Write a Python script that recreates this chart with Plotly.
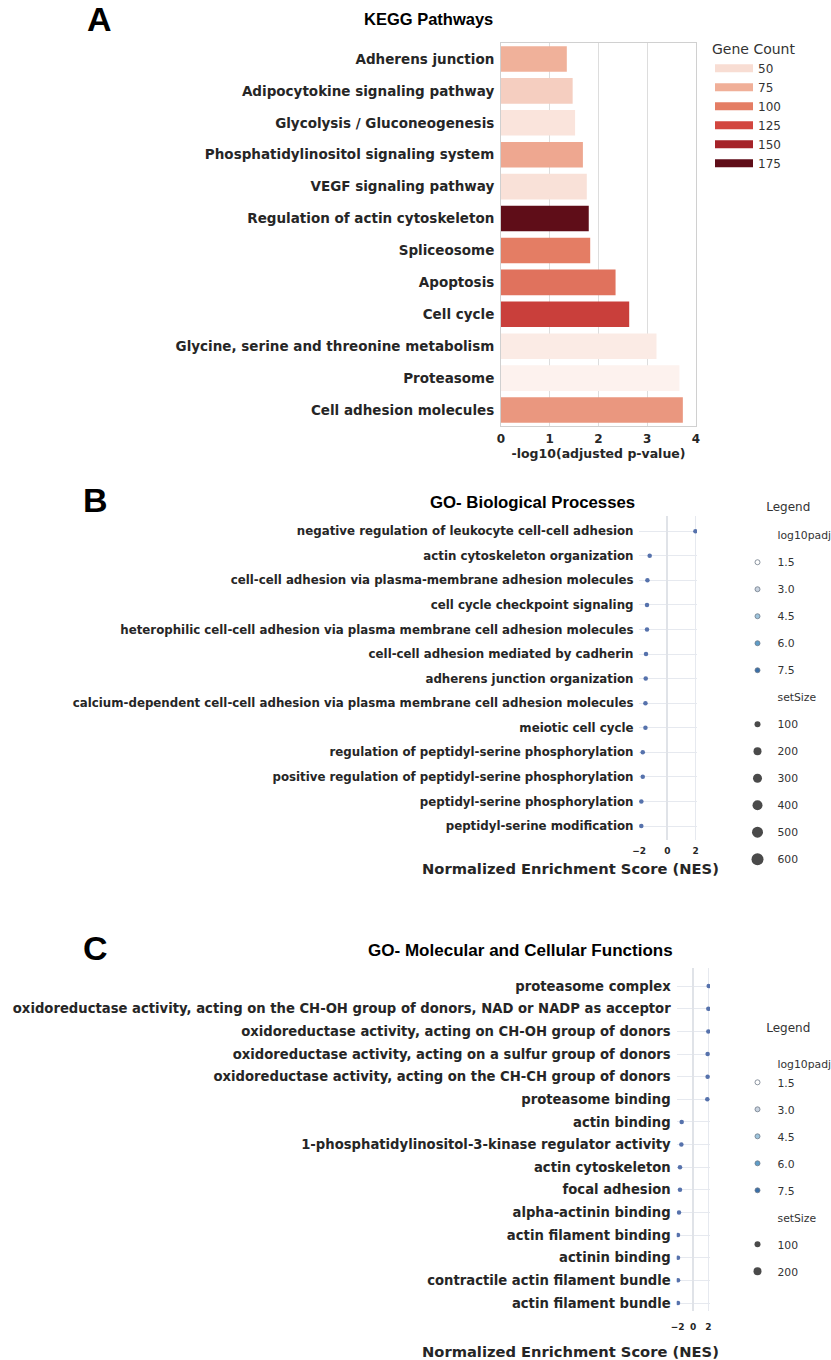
import plotly.graph_objects as go
from plotly.colors import hex_to_rgb, sample_colorscale

W, H = 831, 1360

# ---------------- data ----------------
kegg_terms = [
    "Adherens junction",
    "Adipocytokine signaling pathway",
    "Glycolysis / Gluconeogenesis",
    "Phosphatidylinositol signaling system",
    "VEGF signaling pathway",
    "Regulation of actin cytoskeleton",
    "Spliceosome",
    "Apoptosis",
    "Cell cycle",
    "Glycine, serine and threonine metabolism",
    "Proteasome",
    "Cell adhesion molecules",
]
kegg_neglog10_padj = [1.35, 1.47, 1.52, 1.68, 1.76, 1.80, 1.83, 2.35, 2.63, 3.19, 3.66, 3.73]
kegg_gene_count = [74, 58, 42, 79, 45, 175, 100, 105, 130, 33, 25, 87]
gene_count_legend = [50, 75, 100, 125, 150, 175]

bp_terms = [
    "negative regulation of leukocyte cell-cell adhesion",
    "actin cytoskeleton organization",
    "cell-cell adhesion via plasma-membrane adhesion molecules",
    "cell cycle checkpoint signaling",
    "heterophilic cell-cell adhesion via plasma membrane cell adhesion molecules",
    "cell-cell adhesion mediated by cadherin",
    "adherens junction organization",
    "calcium-dependent cell-cell adhesion via plasma membrane cell adhesion molecules",
    "meiotic cell cycle",
    "regulation of peptidyl-serine phosphorylation",
    "positive regulation of peptidyl-serine phosphorylation",
    "peptidyl-serine phosphorylation",
    "peptidyl-serine modification",
]
bp_nes = [1.98, -1.25, -1.41, -1.44, -1.44, -1.51, -1.53, -1.55, -1.55, -1.74, -1.74, -1.84, -1.84]

mf_terms = [
    "proteasome complex",
    "oxidoreductase activity, acting on the CH-OH group of donors, NAD or NADP as acceptor",
    "oxidoreductase activity, acting on CH-OH group of donors",
    "oxidoreductase activity, acting on a sulfur group of donors",
    "oxidoreductase activity, acting on the CH-CH group of donors",
    "proteasome binding",
    "actin binding",
    "1-phosphatidylinositol-3-kinase regulator activity",
    "actin cytoskeleton",
    "focal adhesion",
    "alpha-actinin binding",
    "actin filament binding",
    "actinin binding",
    "contractile actin filament bundle",
    "actin filament bundle",
]
mf_nes = [2.05, 2.0, 2.0, 1.91, 1.91, 1.87, -1.48, -1.52, -1.70, -1.70, -1.83, -1.96, -1.96, -1.96, -1.96]

padj_legend = [1.5, 3.0, 4.5, 6.0, 7.5]
bp_setsize_legend = [100, 200, 300, 400, 500, 600]
mf_setsize_legend = [100, 200]

# ---------------- styles ----------------
LAB = "DejaVu Sans"
ARIAL = "Liberation Sans"
TXT = "#262626"
count_min, count_max = 20, 180
count_stops = [(20, "#FEF6F3"), (50, "#F8DDD3"), (75, "#F0AF98"), (100, "#E47D64"),
               (125, "#D2463F"), (150, "#A52329"), (175, "#5F0D18"), (180, "#5A0B15")]
count_scale = [[(v - count_min) / (count_max - count_min),
                "rgb(%d,%d,%d)" % hex_to_rgb(c)] for v, c in count_stops]
padj_colors = ["#FFFFFF", "#C9D3E0", "#9DC4DC", "#5E9DC8", "#3A6FA8"]
size_px = {100: 6, 200: 8, 300: 9, 400: 10, 500: 11, 600: 12}
dot_color = "#5672AC"


def fx(p):
    return p / W


def fy(p):
    return 1 - p / H


fig = go.Figure()

# Panel A bars
fig.add_trace(go.Bar(
    x=kegg_neglog10_padj, y=kegg_terms, orientation="h",
    marker=dict(color=kegg_gene_count, colorscale=count_scale,
                cmin=count_min, cmax=count_max, line=dict(width=0)),
    showlegend=False, xaxis="x", yaxis="y", hoverinfo="x+y",
))
for v in gene_count_legend:
    col = sample_colorscale(count_scale, [(v - count_min) / (count_max - count_min)])[0]
    fig.add_trace(go.Scatter(
        x=[None], y=[None], mode="lines", line=dict(color=col, width=8),
        name=str(v), legend="legend", xaxis="x", yaxis="y",
    ))

# Panel B dots
fig.add_trace(go.Scatter(
    x=bp_nes, y=bp_terms, mode="markers",
    marker=dict(color=dot_color, size=4.5, line=dict(width=0)),
    showlegend=False, xaxis="x2", yaxis="y2",
))
# Panel C dots
fig.add_trace(go.Scatter(
    x=mf_nes, y=mf_terms, mode="markers",
    marker=dict(color=dot_color, size=4.5, line=dict(width=0)),
    showlegend=False, xaxis="x3", yaxis="y3",
))


def add_dot_legend(leg, xa, ya, sizes, tag, header_with_first):
    k = 0
    fig.add_trace(go.Scatter(x=[None], y=[None], mode="markers", name="log10padj",
                             marker=dict(size=2, color="rgba(0,0,0,0)"),
                             legend=leg, legendgroup=f"{tag}{k}", xaxis=xa, yaxis=ya))
    for i, (v, c) in enumerate(zip(padj_legend, padj_colors)):
        if not (header_with_first and i == 0):
            k += 1
        fig.add_trace(go.Scatter(x=[None], y=[None], mode="markers", name=f"{v:.1f}",
                                 marker=dict(size=5, color=c, line=dict(width=0.8, color="#6E7A88")),
                                 legend=leg, legendgroup=f"{tag}{k}", xaxis=xa, yaxis=ya))
    k += 1
    fig.add_trace(go.Scatter(x=[None], y=[None], mode="markers", name="setSize",
                             marker=dict(size=2, color="rgba(0,0,0,0)"),
                             legend=leg, legendgroup=f"{tag}{k}", xaxis=xa, yaxis=ya))
    for v in sizes:
        k += 1
        fig.add_trace(go.Scatter(x=[None], y=[None], mode="markers", name=str(v),
                                 marker=dict(size=size_px[v], color="#4A4A4A"),
                                 legend=leg, legendgroup=f"{tag}{k}", xaxis=xa, yaxis=ya))


add_dot_legend("legend2", "x2", "y2", bp_setsize_legend, "b", False)
add_dot_legend("legend3", "x3", "y3", mf_setsize_legend, "c", True)

grid_c = "#E6E9EF"
leg_title = ("<span style='font-size:12px'>" + "\u00a0" * 7 + "Legend</span>"
             "<br><span style='font-size:4px'>\u00a0</span>")

fig.update_layout(
    width=W, height=H, autosize=False,
    margin=dict(l=0, r=0, t=0, b=0, pad=0, autoexpand=False),
    paper_bgcolor="white", plot_bgcolor="white",
    font=dict(family=LAB, color=TXT),
    bargap=0.2,
    # Panel A axes
    xaxis=dict(domain=[fx(501), fx(696)], anchor="y", range=[0, 4], tickvals=[0, 1, 2, 3, 4],
               showgrid=True, gridcolor="#DDDDDD", gridwidth=1, zeroline=False,
               showline=True, linecolor="#D0D0D0", mirror=True, ticks="", automargin=False,
               tickfont=dict(family=LAB, size=12, weight="bold", color=TXT),
               ticklabelstandoff=2,
               title=dict(text="-log10(adjusted p-value)", standoff=1,
                          font=dict(family=LAB, size=12.5, weight="bold", color=TXT))),
    yaxis=dict(domain=[fy(426), fy(43)], anchor="x", categoryorder="array",
               categoryarray=kegg_terms, autorange="reversed", automargin=False,
               showgrid=False, showline=True, linecolor="#D0D0D0", mirror=True, ticks="",
               tickfont=dict(family=LAB, size=13.5, weight="bold", color=TXT),
               ticklabelstandoff=3),
    # Panel B axes
    xaxis2=dict(domain=[fx(638.5), fx(697)], anchor="y2", range=[-2.04, 2.09], tickvals=[-2, 0, 2],
                showgrid=True, gridcolor=grid_c, zeroline=True, zerolinecolor="#E0E3E8", zerolinewidth=1.5,
                showline=False, ticks="", automargin=False,
                tickfont=dict(family=LAB, size=9, weight="bold", color=TXT), ticklabelstandoff=4),
    yaxis2=dict(domain=[fy(840), fy(515.7)], anchor="x2", categoryorder="array",
                categoryarray=bp_terms, range=[12.57, -0.63], automargin=False,
                showgrid=True, gridcolor=grid_c, showline=False, ticks="", zeroline=False,
                tickfont=dict(family=LAB, size=11.8, weight="bold", color=TXT), ticklabelstandoff=4),
    # Panel C axes
    xaxis3=dict(domain=[fx(676.7), fx(710)], anchor="y3", range=[-2.13, 2.22], tickvals=[-2, 0, 2],
                showgrid=True, gridcolor=grid_c, zeroline=True, zerolinecolor="#E0E3E8", zerolinewidth=1.5,
                showline=False, ticks="", automargin=False,
                tickfont=dict(family=LAB, size=9, weight="bold", color=TXT), ticklabelstandoff=9),
    yaxis3=dict(domain=[fy(1310.7), fy(968)], anchor="x3", categoryorder="array",
                categoryarray=mf_terms, range=[14.34, -0.8], automargin=False,
                showgrid=True, gridcolor=grid_c, showline=False, ticks="", zeroline=False,
                tickfont=dict(family=LAB, size=13.2, weight="bold", color=TXT), ticklabelstandoff=5),
    legend=dict(title=dict(text="Gene Count", font=dict(family=LAB, size=14, color="#333")),
                x=fx(710), y=fy(35.5), xanchor="left", yanchor="top",
                font=dict(family=LAB, size=12, color="#333"), bgcolor="rgba(0,0,0,0)",
                itemwidth=38, tracegroupgap=0),
    legend2=dict(title=dict(text=leg_title, font=dict(family=LAB, size=7.2, color="#333")),
                 x=fx(737.5), y=fy(502), xanchor="left", yanchor="top",
                 font=dict(family=LAB, size=10.8, color="#333"), bgcolor="rgba(0,0,0,0)",
                 traceorder="grouped", tracegroupgap=8),
    legend3=dict(title=dict(text=leg_title, font=dict(family=LAB, size=13.0, color="#333")),
                 x=fx(737.5), y=fy(1015), xanchor="left", yanchor="top",
                 font=dict(family=LAB, size=10.8, color="#333"), bgcolor="rgba(0,0,0,0)",
                 traceorder="grouped", tracegroupgap=8),
)

annotations = [
    dict(text="A", x=fx(99), y=fy(19)),
    dict(text="B", x=fx(95), y=fy(500)),
    dict(text="C", x=fx(95), y=fy(948)),
]
annotations = [dict(a, xref="paper", yref="paper", showarrow=False, xanchor="center", yanchor="middle",
                    font=dict(family=ARIAL, size=34, weight="bold", color="black")) for a in annotations]
titles = [
    ("KEGG Pathways", 428, 19, 16.5),
    ("GO- Biological Processes", 532, 502, 16.8),
    ("GO- Molecular and Cellular Functions", 520, 950, 17.05),
]
for t, x, y, s in titles:
    annotations.append(dict(text=t, x=fx(x), y=fy(y), xref="paper", yref="paper", showarrow=False,
                            xanchor="center", yanchor="middle",
                            font=dict(family=ARIAL, size=s, weight="bold", color="black")))
for y in (869, 1351):
    annotations.append(dict(text="Normalized Enrichment Score (NES)", x=fx(570), y=fy(y),
                            xref="paper", yref="paper", showarrow=False,
                            xanchor="center", yanchor="middle",
                            font=dict(family=LAB, size=14.7, weight="bold", color=TXT)))
fig.update_layout(annotations=annotations)

fig.write_html(
    "out.html",
    config={"responsive": False, "displayModeBar": False},
    post_script=("document.body.style.margin='0px';"
                 "document.body.style.overflow='hidden';"
                 "document.documentElement.style.overflow='hidden';"),
)
